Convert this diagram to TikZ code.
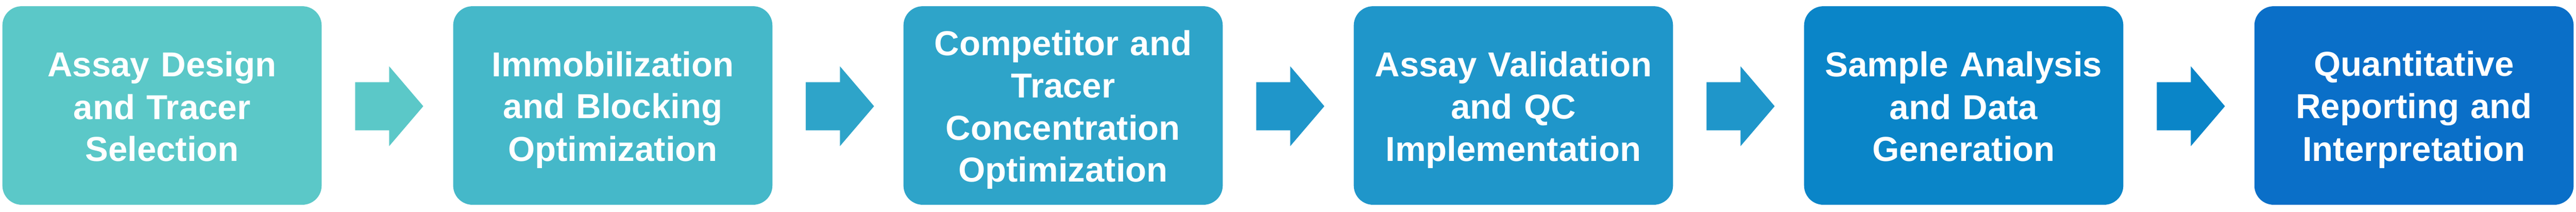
\documentclass[tikz,border=0pt]{standalone}
\usepackage{fontspec}
\setmainfont{Liberation Sans}
\usetikzlibrary{calc}
\definecolor{cA}{HTML}{5BC8C8}
\definecolor{cB}{HTML}{45B8C9}
\definecolor{cC}{HTML}{2EA4C9}
\definecolor{cD}{HTML}{1F96CA}
\definecolor{cE}{HTML}{0A85C8}
\definecolor{cF}{HTML}{0A6FC8}
\newcommand{\lstr}{\rule[-0.14cm]{0pt}{0.84cm}}
\tikzset{
  stepbox/.style={rectangle, rounded corners=0.4cm, minimum width=6.65cm, minimum height=4.13cm,
    inner sep=0pt, text=white, align=center, text width=6.3cm,
    font=\fontsize{20.5pt}{23.9pt}\selectfont\bfseries},
}
\newcommand{\flowarrow}[3]{%
  \fill[#3] ($(#1.east)+(0.69,-0.515)$) -- ++(0.71,0) -- ++(0,-0.33) -- ($(#1.east)+(2.11,-0.015)$)
    -- ($(#1.east)+(1.40,0.815)$) -- ++(0,-0.33) -- ($(#1.east)+(0.69,0.485)$) -- cycle;}
\begin{document}
\begin{tikzpicture}
\useasboundingbox (0,0) rectangle (53.66,4.41);
\node[stepbox, fill=cA] (b1) at (3.375,2.215) {\lstr Assay Design\\\lstr and Tracer\\\lstr Selection};
\node[stepbox, fill=cB] (b2) at (12.765,2.215) {\lstr Immobilization\\\lstr and Blocking\\\lstr Optimization};
\node[stepbox, fill=cC] (b3) at (22.145,2.215) {\lstr Competitor and\\\lstr Tracer\\\lstr Concentration\\\lstr Optimization};
\node[stepbox, fill=cD] (b4) at (31.525,2.215) {\lstr Assay Validation\\\lstr and QC\\\lstr Implementation};
\node[stepbox, fill=cE] (b5) at (40.905,2.215) {\lstr Sample Analysis\\\lstr and Data\\\lstr Generation};
\node[stepbox, fill=cF] (b6) at (50.285,2.215) {\lstr Quantitative\\\lstr Reporting and\\\lstr Interpretation};
\flowarrow{b1}{b2}{cA}
\flowarrow{b2}{b3}{cC}
\flowarrow{b3}{b4}{cD}
\flowarrow{b4}{b5}{cD}
\flowarrow{b5}{b6}{cE}
\end{tikzpicture}
\end{document}
